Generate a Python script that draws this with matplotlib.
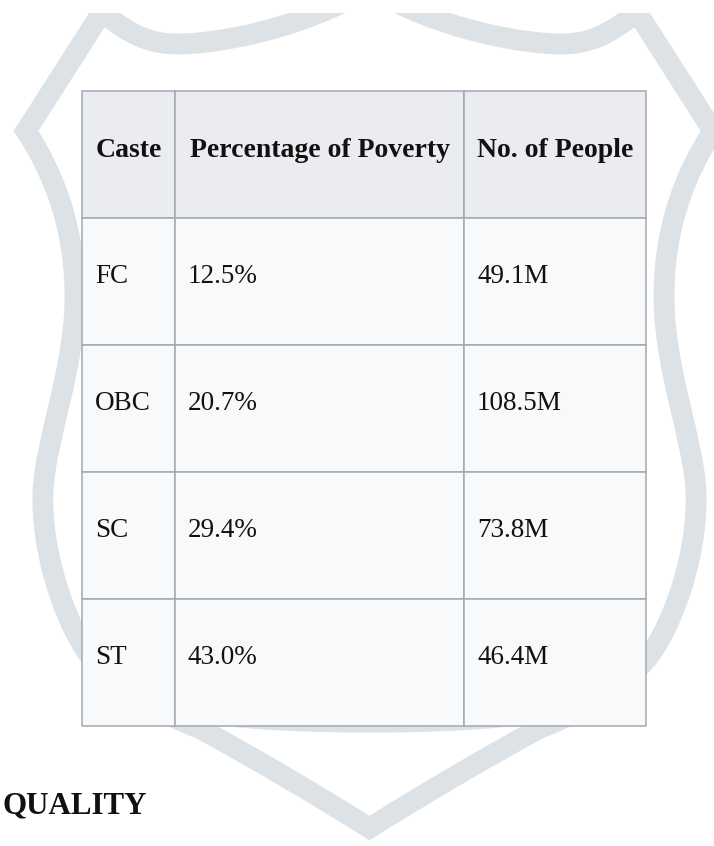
import matplotlib.pyplot as plt
from matplotlib.path import Path
from matplotlib.patches import PathPatch, Rectangle

# table data
headers = ['Caste', 'Percentage of Poverty', 'No. of People']
castes = ['FC', 'OBC', 'SC', 'ST']
poverty_pct = [12.5, 20.7, 29.4, 43.0]
people_m = [49.1, 108.5, 73.8, 46.4]

#figure in pixel units (y goes down)
W, H = 714, 846
fig = plt.figure(figsize=(W / 100, H / 100), dpi=100)
ax = fig.add_axes([0, 0, 1, 1])
ax.set_xlim(0, W)
ax.set_ylim(H, 0)
ax.axis('off')

#shield watermark, left half then mirrored
cx = 369.5
left_verts = [(cx, -12), (300, 30), (215, 44), (178, 44),
              (150, 44), (130, 35), (102, 12),
              (26, 131),
              (55, 175), (75, 230), (75, 296),
              (75, 370), (45, 440), (43, 492),
              (41, 545), (60, 610), (85, 649),
              (105, 680), (150, 710), (199, 728),
              (285, 775), (cx, 828)]
left_codes = ([Path.MOVETO] + [Path.CURVE4] * 6 + [Path.LINETO]
              + [Path.CURVE4] * 12 + [Path.CURVE3] * 2)
right_verts = [(2 * cx - x, y) for x, y in left_verts[::-1]][1:]
right_codes = left_codes[1:][::-1]
shield = Path(left_verts + right_verts, left_codes + right_codes)
clip = Rectangle((0, 13), W, H, transform=ax.transData)
p = PathPatch(shield, fill=False, edgecolor='#dce2e5', lw=15,
              joinstyle='miter', capstyle='butt', zorder=1)
ax.add_patch(p)
p.set_clip_path(clip)

# the bit peeking out under the table
under = Path([(170, 705), (230, 728), (510, 728), (570, 705)],
             [Path.MOVETO, Path.CURVE4, Path.CURVE4, Path.CURVE4])
ax.add_patch(PathPatch(under, fill=False, edgecolor='#dce2e5', lw=15, zorder=1))

#table layout
left, top = 82, 91
col_w = [93, 289, 182]
row_h = 127
edge = '#a2a9b1'
txt_col = '#111111'
serif = 'Liberation Serif'

rows = [[c, f'{p:.1f}%', f'{n:.1f}M'] for c, p, n in zip(castes, poverty_pct, people_m)]

x0 = left
for j, h in enumerate(headers):
    ax.add_patch(Rectangle((x0, top), col_w[j], row_h, facecolor='#eaecf0',
                           edgecolor=edge, lw=1.1, zorder=3))
    ax.text(x0 + col_w[j] / 2, top + 66, h, ha='center', va='baseline',
            fontsize=20, fontweight='bold', family=serif, color=txt_col, zorder=4)
    x0 += col_w[j]

for i, r in enumerate(rows):
    y0 = top + row_h * (i + 1)
    x0 = left
    for j, val in enumerate(r):
        ax.add_patch(Rectangle((x0, y0), col_w[j], row_h, facecolor='#f8f9fa',
                               edgecolor=edge, lw=1.1, zorder=3))
        ax.text(x0 + 13, y0 + 65, val, ha='left', va='baseline',
                fontsize=19.5, family=serif, color=txt_col, zorder=4)
        x0 += col_w[j]

ax.text(2, 813, 'QUALITY', ha='left', va='baseline', fontsize=22.3,
        fontweight='bold', family=serif, color=txt_col, zorder=4)

fig.savefig('out.png', dpi=100)
